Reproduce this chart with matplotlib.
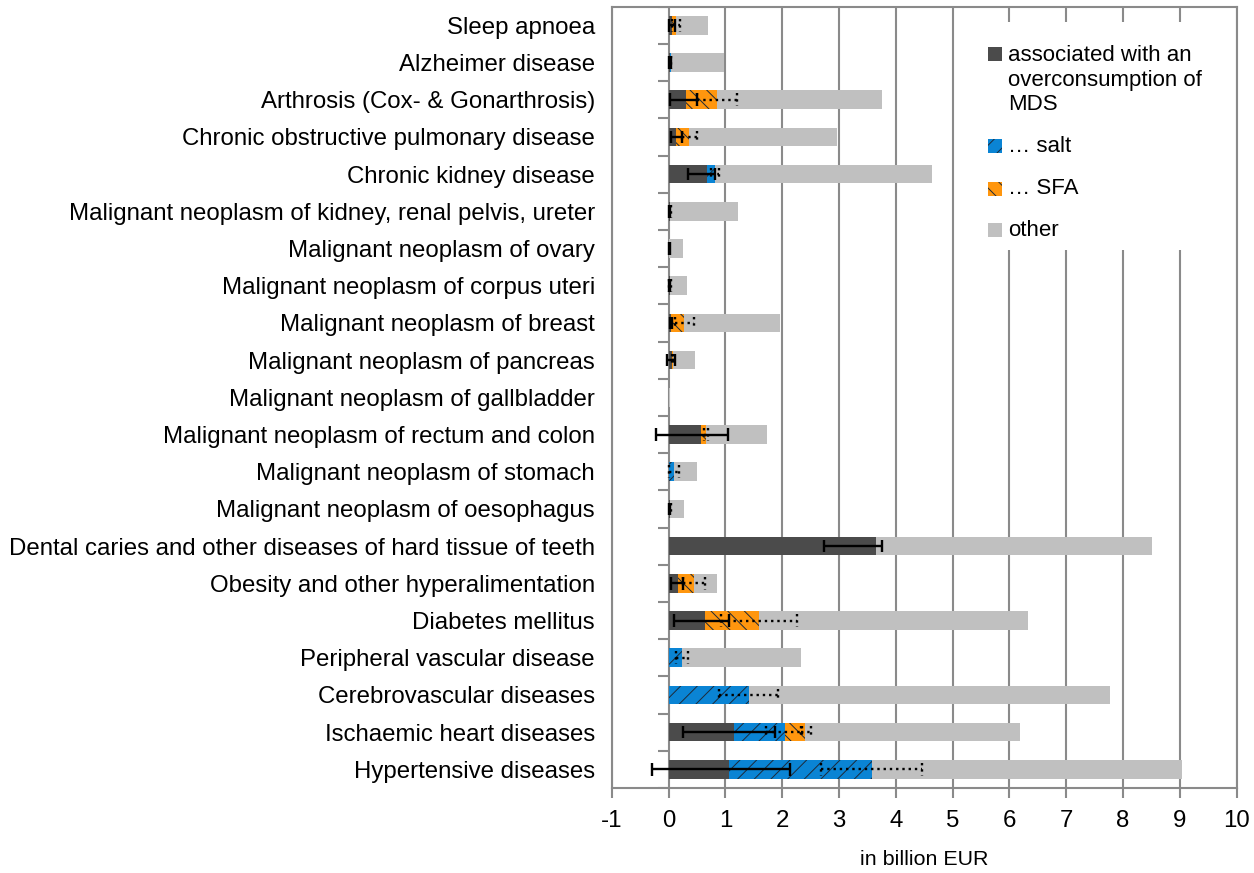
import numpy as np
import matplotlib.pyplot as plt
from matplotlib.patches import Rectangle

plt.rcParams['font.family'] = ['Liberation Sans', 'DejaVu Sans']
plt.rcParams['hatch.linewidth'] = 0.7

# Diseases, listed from top to bottom
categories = [
    "Sleep apnoea",
    "Alzheimer disease",
    "Arthrosis (Cox- & Gonarthrosis)",
    "Chronic obstructive pulmonary disease",
    "Chronic kidney disease",
    "Malignant neoplasm of kidney, renal pelvis, ureter",
    "Malignant neoplasm of ovary",
    "Malignant neoplasm of corpus uteri",
    "Malignant neoplasm of breast",
    "Malignant neoplasm of pancreas",
    "Malignant neoplasm of gallbladder",
    "Malignant neoplasm of rectum and colon",
    "Malignant neoplasm of stomach",
    "Malignant neoplasm of oesophagus",
    "Dental caries and other diseases of hard tissue of teeth",
    "Obesity and other hyperalimentation",
    "Diabetes mellitus",
    "Peripheral vascular disease",
    "Cerebrovascular diseases",
    "Ischaemic heart diseases",
    "Hypertensive diseases",
]

# costs in billion EUR
mds = [0.06, 0.03, 0.30, 0.13, 0.685, 0.02, 0.01, 0.02, 0.04, 0.07, 0.005,
       0.575, 0.01, 0.02, 3.66, 0.16, 0.64, 0.01, 0.01, 1.16, 1.065]
salt = [0.0, 0.005, 0.0, 0.0, 0.125, 0.0, 0.0, 0.0, 0.0, 0.0, 0.0,
        0.0, 0.08, 0.0, 0.0, 0.0, 0.0, 0.22, 1.41, 0.89, 2.515]
sfa = [0.07, 0.0, 0.55, 0.23, 0.0, 0.01, 0.0, 0.005, 0.23, 0.005, 0.0,
       0.085, 0.0, 0.01, 0.0, 0.28, 0.96, 0.0, 0.0, 0.36, 0.0]
other = [0.56, 0.945, 2.91, 2.60, 3.82, 1.20, 0.24, 0.305, 1.70, 0.385, 0.015,
         1.07, 0.42, 0.25, 4.85, 0.42, 4.73, 2.11, 6.35, 3.78, 5.45]

# uncertainty ranges (below, above) of each cumulative segment end
mds_err_lo = [0.05, 0.02, 0.27, 0.08, 0.34, 0.01, 0.01, 0.01, 0.02, 0.10, 0.0,
              0.79, 0.0, 0.01, 0.93, 0.12, 0.55, 0.0, 0.0, 0.90, 1.36]
mds_err_hi = [0.05, 0.02, 0.21, 0.10, 0.13, 0.01, 0.01, 0.01, 0.02, 0.05, 0.0,
              0.48, 0.0, 0.01, 0.09, 0.10, 0.43, 0.0, 0.0, 0.71, 1.07]
salt_err_lo = [0.0, 0.01, 0.0, 0.0, 0.06, 0.0, 0.0, 0.0, 0.0, 0.0, 0.0,
               0.0, 0.08, 0.0, 0.0, 0.0, 0.0, 0.10, 0.53, 0.34, 0.90]
salt_err_hi = [0.0, 0.01, 0.0, 0.0, 0.07, 0.0, 0.0, 0.0, 0.0, 0.0, 0.0,
               0.0, 0.10, 0.0, 0.0, 0.0, 0.0, 0.12, 0.51, 0.30, 0.88]
sfa_err_lo = [0.06, 0.0, 0.35, 0.12, 0.0, 0.01, 0.0, 0.01, 0.15, 0.02, 0.0,
              0.04, 0.0, 0.01, 0.0, 0.18, 0.67, 0.0, 0.0, 0.08, 0.0]
sfa_err_hi = [0.07, 0.0, 0.35, 0.14, 0.0, 0.01, 0.0, 0.01, 0.17, 0.02, 0.0,
              0.04, 0.0, 0.01, 0.0, 0.20, 0.67, 0.0, 0.0, 0.09, 0.0]

x_ticks = list(range(-1, 11))

c_mds = '#4b4b4b'
c_salt = '#0a84d4'
c_sfa = '#ff960e'
c_other = '#c0c0c0'
c_grid = '#8a8a8a'
hatch_col = '#1e2a38'


def draw_errors(ax, y, centre, lo, hi, style):
    """Horizontal error bar with caps; solid or dotted."""
    for yi, c, l, h in zip(y, centre, lo, hi):
        if l == 0 and h == 0:
            continue
        ax.hlines(yi, c - l, c + h, color='black', lw=1.7, linestyle=style, zorder=4)
        ax.vlines([c - l, c + h], yi - 0.17, yi + 0.17, color='black', lw=1.7,
                  linestyle=style, zorder=4)


def main():
    n = len(categories)
    y = np.arange(n)
    mds_a = np.array(mds)
    salt_a = np.array(salt)
    sfa_a = np.array(sfa)

    fig = plt.figure(figsize=(12.54, 8.73), dpi=100)
    ax = fig.add_axes([0.4878, 0.0974, 0.4984, 0.8949])

    h = 0.5
    ax.barh(y, mds, height=h, color=c_mds, lw=0, zorder=3)
    ax.barh(y, salt, left=mds_a, height=h, color=c_salt, edgecolor=hatch_col,
            hatch='//', lw=0, zorder=3)
    ax.barh(y, sfa, left=mds_a + salt_a, height=h, color=c_sfa, edgecolor=hatch_col,
            hatch='\\\\', lw=0, zorder=3)
    ax.barh(y, other, left=mds_a + salt_a + sfa_a, height=h, color=c_other, lw=0, zorder=3)

    draw_errors(ax, y, mds_a, mds_err_lo, mds_err_hi, '-')
    draw_errors(ax, y, mds_a + salt_a, salt_err_lo, salt_err_hi, ':')
    draw_errors(ax, y, mds_a + salt_a + sfa_a, sfa_err_lo, sfa_err_hi, ':')

    ax.set_xlim(-1, 10)
    ax.set_ylim(n - 0.5, -0.5)
    ax.set_xticks(x_ticks)
    ax.set_xticklabels([str(t) for t in x_ticks], fontsize=17.3)
    ax.set_yticks(y)
    ax.set_yticklabels(categories, fontsize=17.3)
    ax.tick_params(axis='y', length=0, pad=12)
    ax.tick_params(axis='x', length=7, width=1.5, color=c_grid, pad=9)
    ax.set_xlabel('in billion EUR', fontsize=15.4, labelpad=13)

    ax.grid(axis='x', color=c_grid, lw=1.5, zorder=0)
    for s in ax.spines.values():
        s.set_color(c_grid)
        s.set_linewidth(1.5)

    # category separators on the zero line
    ax.hlines(np.arange(n + 1) - 0.5, -0.18, 0, color=c_grid, lw=1.5, zorder=2)

    # legend block drawn by hand so the handle sits on the first text line
    ax.add_patch(Rectangle((0.565, 0.688), 0.43, 0.292, transform=ax.transAxes,
                           facecolor='white', edgecolor='none', zorder=5))
    entries = [
        ('associated with an\noverconsumption of\nMDS', c_mds, None, 0.9395),
        ('… salt', c_salt, '//', 0.8217),
        ('… SFA', c_sfa, '\\\\', 0.7673),
        ('other', c_other, None, 0.7142),
    ]
    sq_w, sq_h = 0.0224, 0.0179
    for label, col, hatch, yc in entries:
        ax.add_patch(Rectangle((0.6025, yc - sq_h / 2), sq_w, sq_h, transform=ax.transAxes,
                               facecolor=col, edgecolor=hatch_col if hatch else 'none',
                               hatch=hatch, lw=0, zorder=6))
        if '\n' in label:
            ax.text(0.634, yc + 0.0115, label, transform=ax.transAxes, fontsize=16,
                    va='top', ha='left', linespacing=1.22, zorder=6)
        else:
            ax.text(0.634, yc, label, transform=ax.transAxes, fontsize=16,
                    va='center', ha='left', zorder=6)

    fig.savefig('out.png', dpi=100)


if __name__ == "__main__":
    main()
